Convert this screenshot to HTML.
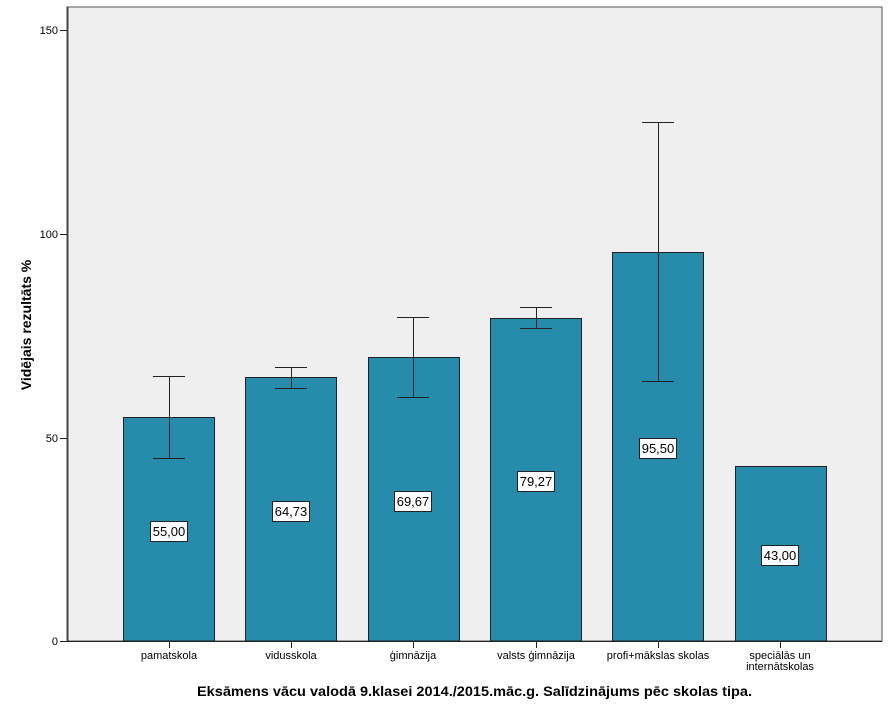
<!DOCTYPE html>
<html><head><meta charset="utf-8"><style>body{margin:0;background:#fff}svg{display:block}text{font-family:"Liberation Sans",sans-serif}</style></head><body>
<svg width="891" height="713" viewBox="0 0 891 713" xmlns="http://www.w3.org/2000/svg">
<rect x="67" y="7" width="815" height="634" fill="#efefef" stroke="#555" stroke-width="1"/>
<g fill="#278bac" stroke="#222" stroke-width="1">
<rect x="123.5" y="417.5" width="91" height="223.5"/>
<rect x="245.5" y="377.5" width="91" height="263.5"/>
<rect x="368.5" y="357.5" width="91" height="283.5"/>
<rect x="490.5" y="318.5" width="91" height="322.5"/>
<rect x="612.5" y="252.5" width="91" height="388.5"/>
<rect x="735.5" y="466.5" width="91" height="174.5"/>
</g>
<g stroke="#222" stroke-width="1" fill="none">
<path d="M169.5 376V458M153 376.5H185M153 458.5H185"/>
<path d="M291.5 367V388M275 367.5H307M275 388.5H307"/>
<path d="M413.5 317V397M397 317.5H429M397 397.5H429"/>
<path d="M536.5 307V328M520 307.5H552M520 328.5H552"/>
<path d="M658.5 122V381M642 122.5H674M642 381.5H674"/>
</g>
<line x1="67" y1="641.5" x2="882" y2="641.5" stroke="#222"/>
<line x1="67.5" y1="7" x2="67.5" y2="641" stroke="#444" stroke-width="2"/>
<g stroke="#222"><path d="M60 30.5H67M60 234.5H67M60 438.5H67M60 641.5H67"/>
<path d="M169.5 642V648M291.5 642V648M413.5 642V648M536.5 642V648M658.5 642V648M780.5 642V648"/></g>
<g font-size="11" text-anchor="end" fill="#000"><text x="58" y="34">150</text><text x="58" y="238">100</text><text x="58" y="442">50</text><text x="58" y="645">0</text></g>
<g font-size="11" text-anchor="middle" fill="#000">
<text x="169" y="659">pamatskola</text><text x="291" y="659">vidusskola</text><text x="413" y="659">ģimnāzija</text><text x="536" y="659">valsts ģimnāzija</text><text x="658" y="659">profi+mākslas skolas</text><text x="780" y="659">speciālās un</text><text x="780" y="670">internātskolas</text></g>
<g font-size="13" text-anchor="middle">
<rect x="150.5" y="521.5" width="37" height="20" fill="#fff" stroke="#222"/><text x="169" y="536">55,00</text>
<rect x="272.5" y="501.5" width="37" height="20" fill="#fff" stroke="#222"/><text x="291" y="516">64,73</text>
<rect x="394.5" y="491.5" width="37" height="20" fill="#fff" stroke="#222"/><text x="413" y="506">69,67</text>
<rect x="517.5" y="471.5" width="37" height="20" fill="#fff" stroke="#222"/><text x="536" y="486">79,27</text>
<rect x="639.5" y="438.5" width="37" height="20" fill="#fff" stroke="#222"/><text x="658" y="453">95,50</text>
<rect x="761.5" y="545.5" width="37" height="20" fill="#fff" stroke="#222"/><text x="780" y="560">43,00</text>
</g>
<text x="197" y="696" font-size="14" font-weight="bold" textLength="555" lengthAdjust="spacingAndGlyphs">Eksāmens vācu valodā 9.klasei 2014./2015.māc.g. Salīdzinājums pēc skolas tipa.</text>
<text transform="translate(31 325) rotate(-90)" font-size="14" font-weight="bold" text-anchor="middle">Vidējais rezultāts %</text>
</svg>
</body></html>
